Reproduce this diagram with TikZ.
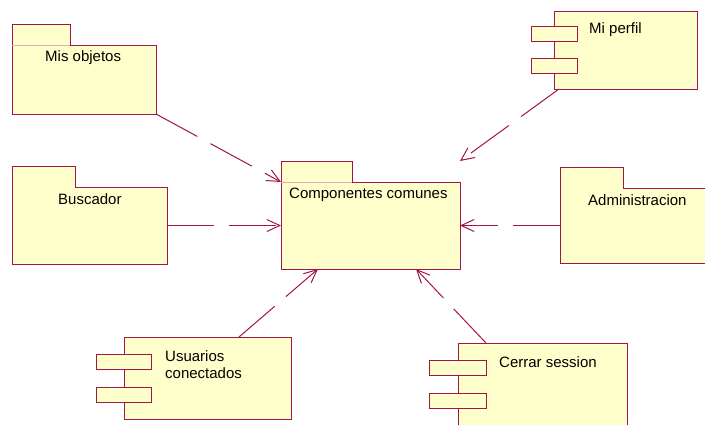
\documentclass[tikz,border=0pt]{standalone}
\usepackage{fontspec}
\setmainfont{Liberation Sans}
\usetikzlibrary{arrows.meta,calc}
\definecolor{umlline}{RGB}{165,20,70}
\definecolor{umlfill}{RGB}{255,255,204}
\tikzset{
  body/.style={rectangle, inner sep=0pt, outer sep=0pt, anchor=north west},
  compbody/.style={body, fill=umlfill, draw=umlline, line width=1pt},
  port/.style={compbody, minimum width=#1, minimum height=15pt},
  pkg/.style={fill=umlfill, draw=umlline, line width=1pt, line join=miter},
  divider/.style={draw=umlline!35, line width=0.8pt},
  lbl/.style={anchor=base west, inner sep=0pt, font=\fontsize{15}{18}\selectfont},
  dep/.style={draw=umlline, line width=1pt, dash pattern=on 47pt off 15pt,
    -{Straight Barb[length=13pt,width=12pt,line width=1pt]}}
}
\begin{document}
\begin{tikzpicture}[x=1pt,y=-1pt]
\clip (0,0) rectangle (705,424);
\fill[white] (0,0) rectangle (705,424);

% ---------- packages (folder shapes) ----------
% Mis objetos
\node[body, minimum width=144pt, minimum height=69pt] (misobj) at (12,45) {};
\filldraw[pkg] (misobj.south west) -- (12,24) -- (70,24) -- (70,45)
  -- (misobj.north east) -- (misobj.south east) -- cycle;
\draw[divider] (misobj.north west) -- (70,45);
\node[lbl] (tmisobj) at (45,61) {Mis objetos};

% Componentes comunes
\node[body, minimum width=179pt, minimum height=87pt] (comp) at (281,182) {};
\filldraw[pkg] (comp.south west) -- (281,161) -- (352,161) -- (352,182)
  -- (comp.north east) -- (comp.south east) -- cycle;
\draw[divider] (comp.north west) -- (352,182);
\node[lbl] (tcomp) at (289,198) {Componentes comunes};

% Buscador
\node[body, minimum width=155pt, minimum height=77pt] (busc) at (12,187) {};
\filldraw[pkg] (busc.south west) -- (12,166) -- (75,166) -- (75,187)
  -- (busc.north east) -- (busc.south east) -- cycle;
\node[lbl] (tbusc) at (58,204) {Buscador};

% Administracion
\node[body, minimum width=155pt, minimum height=75pt] (admin) at (560,188) {};
\filldraw[pkg] (admin.south west) -- (560,167) -- (623,167) -- (623,188)
  -- (admin.north east) -- (admin.south east) -- cycle;
\node[lbl] (tadmin) at (588,205) {Administracion};

% ---------- components ----------
% Mi perfil
\node[compbody, minimum width=143pt, minimum height=78pt] (perfil) at (554,11) {};
\node[port=46pt] (perfilp1) at (531,26) {};
\node[port=46pt] (perfilp2) at (531,58) {};
\node[lbl] (tperfil) at (589,33) {Mi perfil};

% Usuarios conectados
\node[compbody, minimum width=167pt, minimum height=82pt] (usu) at (124,337) {};
\node[port=55pt] (usup1) at (96,354) {};
\node[port=55pt] (usup2) at (96,387) {};
\node[lbl] (tusu1) at (165,361) {Usuarios};
\node[lbl] (tusu2) at (165,378) {conectados};

% Cerrar session
\node[compbody, minimum width=169pt, minimum height=97pt] (cerrar) at (458,343) {};
\node[port=57pt] (cerrarp1) at (429,360) {};
\node[port=57pt] (cerrarp2) at (429,393) {};
\node[lbl] (tcerrar) at (499,367) {Cerrar session};

% ---------- dependencies ----------
\draw[dep] (misobj.south east) -- (comp.north west);
\draw[dep] ($(perfil.south west)+(5,0)$) -- ($(comp.north east)+(0,-21)$);
\draw[dep] (busc.east) -- (comp.west);
\draw[dep] (admin.west) -- (comp.east);
\draw[dep] ($(usu.north west)+(115,0)$) -- ($(comp.south west)+(37,0)$);
\draw[dep] ($(cerrar.north west)+(28,0)$) -- ($(comp.south west)+(135,0)$);
\end{tikzpicture}
\end{document}
